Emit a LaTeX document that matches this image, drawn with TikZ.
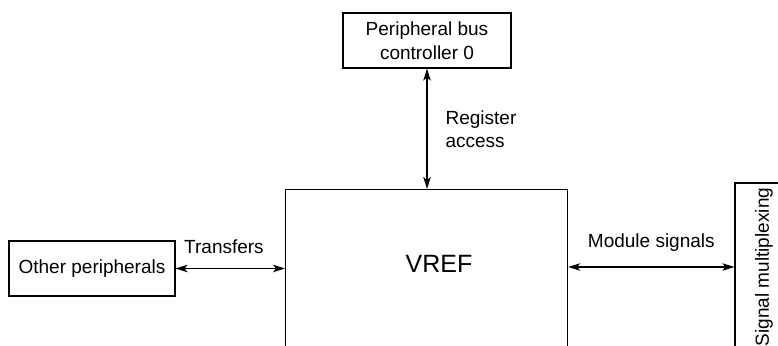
\documentclass[tikz,border=0pt]{standalone}
\usepackage{fontspec}
\setmainfont{Liberation Sans}
\usepackage{tikz}
\usetikzlibrary{arrows}
\usetikzlibrary{arrows.meta}
\usetikzlibrary{positioning}

\begin{document}
\begin{tikzpicture}[x=1pt,y=-1pt,
	blk/.style={draw,line width=1.2pt,inner sep=0pt,font=\fontsize{19}{24.5}\selectfont},
	lbl/.style={inner sep=0pt,font=\fontsize{19}{23}\selectfont,align=left},
	link/.style={{Stealth[length=12pt,width=7.5pt,inset=3pt]}-{Stealth[length=12pt,width=7.5pt,inset=3pt]},line width=1.2pt}]
				% Page size, and cut off what runs over the edge.
				\path[use as bounding box] (0,0) rectangle (778,345);
				\clip (0,0) rectangle (778,345);
				
				% Blocks
				\node[blk,minimum width=168pt,minimum height=55pt,align=center] (pbc) at (427,40.5) {Peripheral bus\\controller 0};
				\node[blk,minimum width=282pt,minimum height=240pt,anchor=north west] (vref) at (285,189) {};
				\node[font=\fontsize{25}{30}\selectfont,inner sep=0pt] (vreftxt) at (439,264) {VREF};
				\node[blk,minimum width=166pt,minimum height=55pt] (other) at (92,268.5) {Other peripherals};
				\node[blk,rotate=90,minimum width=168pt,minimum height=58pt] (sigmux) at (764,267) {Signal multiplexing};
				
				% Connections
				\draw[link] (pbc.south) -- (pbc.south |- vref.north) node[lbl,midway,right=18pt] {Register\\access};
				\draw[link] (other.east) -- (vref.west |- other.east) node[lbl,pos=0,anchor=south west,xshift=8pt,yshift=14pt] {Transfers};
				\draw[link] (vref.east |- sigmux) -- (sigmux.north) node[lbl,midway,above=15pt] {Module signals};
				
\end{tikzpicture}
\end{document}
